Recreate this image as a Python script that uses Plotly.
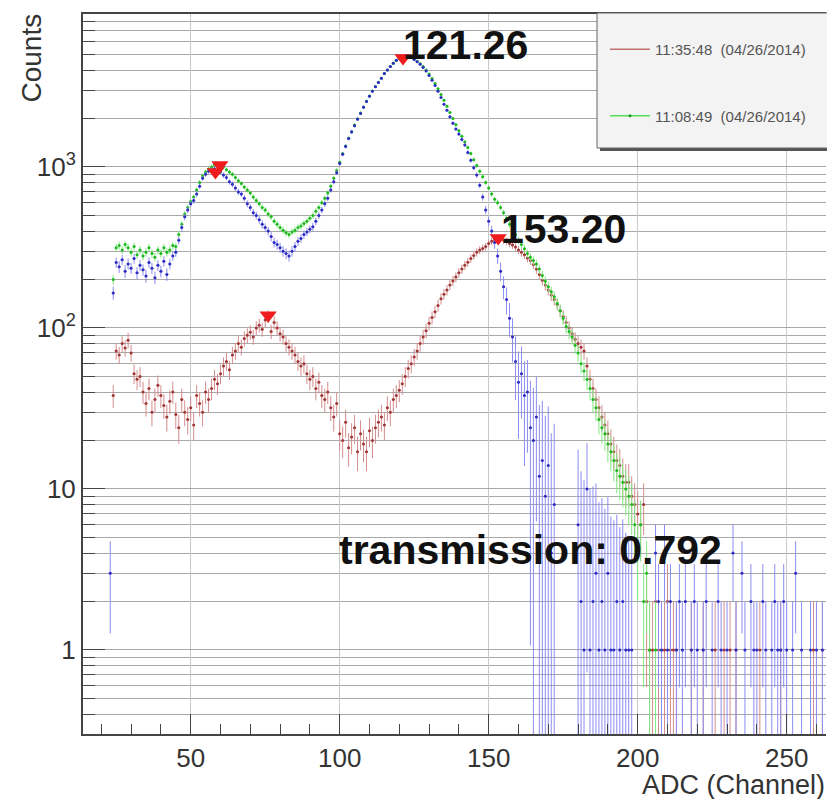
import math
import plotly.graph_objects as go

# ADC channel of each bin (1-channel bins)
channels = list(range(23, 264))

# Background-subtracted spectrum (drawn in blue, no legend entry)
counts_blue = [
    3, 165, 255, 240, 265, 225, 250, 235, 270, 220,          # 23-32
    245, 230, 210, 255, 235, 205, 245, 225, 260, 215,        # 33-42
    250, 280, 295, 350, 420, 490, 540, 590, 620, 680,        # 43-52
    760, 850, 900, 940, 960, 975, 950, 930, 890, 860,        # 53-62
    810, 780, 740, 700, 680, 640, 590, 560, 520, 500,        # 63-72
    470, 440, 420, 400, 370, 340, 330, 315, 300, 290,        # 73-82
    280, 300, 320, 345, 360, 380, 395, 410, 425, 460,        # 83-92
    500, 540, 590, 640, 720, 810, 920, 1050, 1200, 1340,     # 93-102
    1500, 1650, 1800, 1980, 2150, 2350, 2550, 2750, 2950, 3150,  # 103-112
    3350, 3550, 3800, 4000, 4200, 4400, 4600, 4750, 4850, 4900,  # 113-122
    4850, 4780, 4650, 4500, 4350, 4150, 3950, 3700, 3450, 3200,  # 123-132
    2950, 2700, 2450, 2250, 2050, 1870, 1720, 1600, 1480, 1370,  # 133-142
    1230, 1100, 990, 890, 770, 650, 540, 460, 400, 340,      # 143-152
    280, 225, 180, 150, 115, 88, 62, 46, 52, 38,             # 153-162
    40, 24, 20, 28, 12, 15, 9, 14, 4, 8,                     # 163-172
    0, 0, 0, 0, 0, 0, 0, 6, 2, 1,                            # 173-182
    10, 1, 2, 3, 1, 2, 1, 3, 1, 1,                           # 183-192
    2, 1, 2, 1, 1, 1, 0, 0, 0, 0,                            # 193-202
    0, 0, 0, 4, 2, 1, 4, 1, 2, 0,                            # 203-212
    1, 2, 1, 2, 0, 1, 2, 1, 0, 1,                            # 213-222
    2, 0, 1, 0, 2, 1, 0, 1, 0, 4,                            # 223-232
    1, 0, 3, 1, 0, 2, 1, 1, 0, 2,                            # 233-242
    1, 0, 1, 2, 1, 1, 2, 1, 0, 1,                            # 243-252
    3, 0, 1, 0, 0, 1, 0, 1, 0, 1, 0,                         # 253-263
]

# Run 11:08:49 (green)
counts_green = [
    0, 200, 315, 325, 305, 330, 315, 295, 320, 285,          # 23-32
    305, 280, 295, 315, 290, 275, 305, 290, 315, 295,        # 33-42
    305, 325, 320, 380, 440, 510, 560, 610, 650, 720,        # 43-52
    800, 880, 930, 970, 1000, 1030, 1050, 1030, 1000, 960,   # 53-62
    930, 900, 860, 820, 790, 750, 720, 690, 650, 620,        # 63-72
    590, 560, 540, 510, 490, 460, 440, 420, 405, 390,        # 73-82
    380, 395, 405, 420, 430, 445, 460, 480, 500, 530,        # 83-92
    560, 600, 640, 690, 760, 850, 950, 1070, 1210, 1350,     # 93-102
    1510, 1660, 1820, 1990, 2160, 2360, 2560, 2760, 2960, 3160,  # 103-112
    3360, 3560, 3800, 4000, 4200, 4400, 4580, 4720, 4830, 4880,  # 113-122
    4840, 4780, 4660, 4520, 4380, 4200, 4000, 3780, 3540, 3300,  # 123-132
    3060, 2820, 2600, 2380, 2180, 2000, 1830, 1680, 1550, 1430,  # 133-142
    1320, 1210, 1110, 1020, 940, 870, 800, 740, 680, 630,    # 143-152
    600, 560, 520, 480, 440, 405, 380, 350, 330, 310,        # 153-162
    290, 275, 262, 250, 232, 212, 195, 180, 168, 156,        # 163-172
    142, 128, 115, 102, 95, 88, 78, 70, 60, 54,              # 173-182
    48, 42, 36, 32, 27, 24, 22, 19, 17, 15,                  # 183-192
    13, 12, 11, 10, 9, 8, 6, 4, 6, 2,                        # 193-202
    3, 1, 0, 1, 0, 0, 0, 0, 0, 0,                            # 203-212
    0, 0, 0, 0, 0, 0, 0, 0, 0, 0,                            # 213-222
    0, 0, 0, 0, 0, 0, 0, 0, 0, 0,                            # 223-232
    0, 0, 0, 0, 0, 0, 0, 0, 0, 0,                            # 233-242
    0, 0, 0, 0, 0, 0, 0, 0, 0, 0,                            # 243-252
    0, 0, 0, 0, 0, 0, 0, 0, 0, 0, 0,                         # 253-263
]

# Run 11:35:48 (brown)
counts_brown = [
    0, 38, 72, 68, 80, 75, 84, 70, 52, 48,                   # 23-32
    50, 40, 34, 42, 30, 36, 44, 38, 33, 28,                  # 33-42
    35, 40, 29, 24, 36, 30, 27, 32, 25, 38,                  # 43-52
    34, 30, 40, 36, 42, 48, 45, 52, 58, 62,                  # 53-62
    55, 68, 72, 80, 76, 86, 90, 94, 88, 100,                 # 63-72
    104, 98, 112, 118, 95, 108, 100, 92, 88, 80,             # 73-82
    76, 72, 68, 62, 58, 60, 52, 48, 50, 42,                  # 83-92
    46, 38, 36, 40, 32, 28, 34, 22, 20, 26,                  # 93-102
    18, 21, 24, 17, 22, 19, 17, 23, 20, 24,                  # 103-112
    26, 28, 25, 32, 30, 36, 38, 41, 45, 50,                  # 113-122
    56, 60, 66, 72, 80, 88, 96, 107, 116, 126,               # 123-132
    138, 152, 162, 172, 185, 196, 207, 220, 232, 245,        # 133-142
    256, 270, 282, 295, 305, 312, 320, 335, 345, 352,        # 143-152
    362, 358, 350, 345, 335, 328, 318, 305, 295, 285,        # 153-162
    272, 262, 248, 232, 215, 198, 185, 172, 160, 150,        # 163-172
    140, 128, 118, 108, 100, 92, 85, 80, 76, 72,             # 173-182
    58, 48, 42, 36, 32, 28, 25, 22, 19, 17,                  # 183-192
    15, 14, 12, 11, 11, 9, 8, 7, 6, 8,                       # 193-202
    2, 1, 1, 2, 1, 1, 1, 2, 1, 1,                            # 203-212
    1, 0, 0, 0, 0, 1, 0, 0, 0, 1,                            # 213-222
    0, 0, 0, 1, 0, 0, 1, 0, 1, 0,                            # 223-232
    1, 0, 0, 0, 0, 0, 0, 0, 1, 0,                            # 233-242
    0, 0, 0, 0, 0, 1, 0, 0, 0, 0,                            # 243-252
    0, 0, 0, 0, 0, 0, 1, 0, 0, 1, 0,                         # 253-263
]

# Peaks found by the peak search (position, height); the last two are labelled
peak_ch = [58.3, 59.8, 76.0, 121.26, 153.20]
peak_counts = [930, 1030, 120, 4750, 362]
labelled_peaks = [3, 4]
transmission = 0.792

legend_names = ["11:35:48 \u00a0(04/26/2014)", "11:08:49 \u00a0(04/26/2014)"]

FONT = "Liberation Sans, Arial, Helvetica, sans-serif"
BLUE_MK, BLUE_BAR = "#2c2cc0", "#8c8cf2"
GREEN_MK, GREEN_BAR = "#1fb81f", "#7fe87f"
BROWN_MK, BROWN_BAR = "#a03838", "#d48c8c"

# Plot frame in pixels
PLOT_L, PLOT_R, PLOT_T, PLOT_B = 83, 826, 14, 734
W, H = 827, 799


def px_x(px):
    return (px - PLOT_L) / (PLOT_R - PLOT_L)


def px_y(py):
    return (PLOT_B - py) / (PLOT_B - PLOT_T)


def poisson_err(counts):
    return [math.sqrt(n) if n > 0 else 0.0 for n in counts]


def subtracted_err(signal, total):
    # error of (total - background): sqrt(total + background)
    return [math.sqrt(max(2 * t - s, s)) if s > 0 else 0.0
            for s, t in zip(signal, total)]


def hist_trace(counts, errors, mk_color, bar_color):
    xs, ys, up, dn = [], [], [], []
    for ch, n, err in zip(channels, counts, errors):
        if n <= 0:
            continue
        xs.append(ch)
        ys.append(n)
        up.append(err)
        dn.append(min(err, n - 1e-3))
    return go.Scatter(
        x=xs, y=ys, mode="markers",
        marker=dict(size=3, color=mk_color),
        error_y=dict(type="data", array=up, arrayminus=dn, symmetric=False,
                     color=bar_color, thickness=1, width=0),
        error_x=dict(type="constant", value=0.5, color=bar_color,
                     thickness=1, width=0),
        showlegend=False, hoverinfo="skip",
    )


fig = go.Figure()
fig.add_trace(hist_trace(counts_brown, poisson_err(counts_brown), BROWN_MK, BROWN_BAR))
fig.add_trace(hist_trace(counts_green, poisson_err(counts_green), GREEN_MK, GREEN_BAR))
fig.add_trace(hist_trace(counts_blue, subtracted_err(counts_blue, counts_green),
                         BLUE_MK, BLUE_BAR))

# Peak markers
fig.add_trace(go.Scatter(
    x=peak_ch, y=peak_counts, mode="markers",
    marker=dict(symbol="triangle-down", size=15, color="#ee1c1c"),
    showlegend=False, hoverinfo="skip",
))

# Legend entries
fig.add_trace(go.Scatter(x=[None], y=[None], mode="lines", name=legend_names[0],
                         line=dict(color="#c07070", width=1.5), legendgroup="a"))
fig.add_trace(go.Scatter(x=[None], y=[None], mode="lines+markers", name=legend_names[1],
                         line=dict(color="#55dd55", width=1.5),
                         marker=dict(size=3, color="#229922"), legendgroup="b"))

BIG = dict(family=FONT, size=41, color="#111111", weight="bold")
annotations = []
shifts = {3: (-2, 13), 4: (1, 9)}
for i in labelled_peaks:
    dx, dy = shifts[i]
    annotations.append(dict(
        x=peak_ch[i], y=math.log10(peak_counts[i]), xref="x", yref="y",
        text=f"{peak_ch[i]:.2f}", showarrow=False, xanchor="left", yanchor="middle",
        xshift=dx, yshift=dy, font=BIG,
    ))
annotations.append(dict(
    x=100, y=math.log10(4.2), xref="x", yref="y",
    text=f"transmission: {transmission:.3f}", showarrow=False,
    xanchor="left", yanchor="middle", xshift=-3, font=BIG,
))
annotations.append(dict(
    x=px_x(31), y=px_y(12), xref="paper", yref="paper", text="Counts",
    textangle=-90, showarrow=False, xanchor="center", yanchor="top",
    font=dict(family=FONT, size=28, color="#333333"),
))
annotations.append(dict(
    x=px_x(826), y=px_y(785), xref="paper", yref="paper", text="ADC (Channel)",
    showarrow=False, xanchor="right", yanchor="middle", borderpad=0,
    font=dict(family=FONT, size=27, color="#333333"),
))

shapes = [
    dict(type="rect", xref="paper", yref="paper",
         x0=px_x(600), x1=px_x(834), y0=px_y(151), y1=px_y(16),
         fillcolor="#555555", line=dict(width=0), layer="above"),
    dict(type="rect", xref="paper", yref="paper",
         x0=px_x(597), x1=px_x(831), y0=px_y(148), y1=px_y(13),
         fillcolor="#f3f3f3", line=dict(color="#666666", width=1), layer="above"),
]

y_major = [1, 10, 100, 1000]
y_major_text = ["1", "10", "10<sup>2</sup>", "10<sup>3</sup>"]
y_minor = [m * 10 ** k for k in range(-1, 4) for m in range(2, 10) if 0.3 <= m * 10 ** k <= 9000]
x_major = [50, 100, 150, 200, 250]
x_minor = [v for v in range(20, 264, 10) if v % 50 != 0]

fig.update_layout(
    width=W, height=H, autosize=False,
    margin=dict(l=PLOT_L, r=W - PLOT_R, t=PLOT_T, b=H - PLOT_B),
    paper_bgcolor="white", plot_bgcolor="white",
    font=dict(family=FONT, color="#333333"),
    xaxis=dict(
        range=[13.86, 263.2], tickvals=x_major, ticks="inside", ticklen=20,
        tickwidth=1, tickcolor="#444444", showline=True, linecolor="#444444",
        linewidth=2, mirror=True, showgrid=True, gridcolor="#c8c8c8", gridwidth=1,
        zeroline=False, tickfont=dict(size=26, color="#333333"),
        minor=dict(tickvals=x_minor, ticks="inside", ticklen=10,
                   tickcolor="#444444", showgrid=False),
    ),
    yaxis=dict(
        type="log", range=[-0.522, 3.95], tickvals=y_major, ticktext=y_major_text,
        ticks="inside", ticklen=22, tickwidth=1, tickcolor="#444444",
        showline=True, linecolor="#444444", linewidth=2,
        showgrid=True, gridcolor="#a8a8a8", gridwidth=1, zeroline=False,
        tickfont=dict(size=26, color="#333333"),
        minor=dict(tickvals=y_minor, ticks="inside", ticklen=12,
                   tickcolor="#444444", showgrid=True, gridcolor="#a8a8a8"),
    ),
    legend=dict(
        x=px_x(605), y=px_y(33), xanchor="left", yanchor="top",
        bgcolor="rgba(0,0,0,0)", borderwidth=0,
        font=dict(family=FONT, size=15, color="#555555"),
        tracegroupgap=44, itemwidth=40,
    ),
    annotations=annotations,
    shapes=shapes,
)

fig.write_html("out.html")
